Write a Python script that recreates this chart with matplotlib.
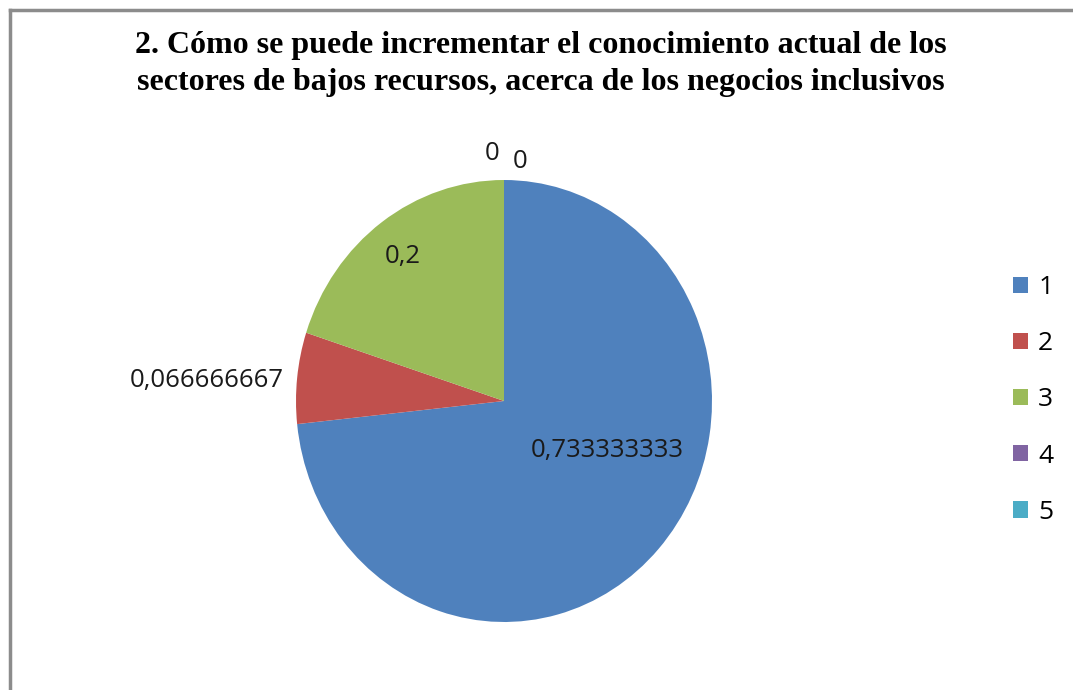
import matplotlib
matplotlib.use("Agg")
import matplotlib.pyplot as plt
from matplotlib.patches import Patch
from matplotlib.lines import Line2D

W, H = 1073, 690
DPI = 100

TITLE = "2. Cómo se puede incrementar el conocimiento actual de los\nsectores de bajos recursos, acerca de los negocios inclusivos"
categories = ["1", "2", "3", "4", "5"]
values = [0.733333333, 0.066666667, 0.2, 0.0, 0.0]
colors = ["#4F81BD", "#C0504D", "#9BBB59", "#8064A2", "#4BACC6"]

# posiciones de las etiquetas (px desde arriba-izquierda), como en Excel
label_pos = [(607, 450), (207, 381), (403, 256), (492, 154), (520, 161)]


def fmt(v):
    s = f"{v:.9f}".rstrip("0").rstrip(".")
    return s.replace(".", ",")


def fx(x):
    return x / W


def fy(y):
    return 1 - y / H


fig = plt.figure(figsize=(W / DPI, H / DPI), dpi=DPI)
fig.patch.set_facecolor("white")

# marco gris (solo izquierda y arriba visibles)
fig.add_artist(Line2D([fx(9.5), fx(9.5)], [0, fy(9.5)], color="#8C8C8C", lw=2.5))
fig.add_artist(Line2D([fx(9.5), 1], [fy(9.5), fy(9.5)], color="#8C8C8C", lw=2.5))

fig.text(fx(541), fy(64), TITLE, ha="center", va="center", fontsize=23,
         fontweight="bold", family="Liberation Serif", linespacing=1.32)

# pie en su propio eje, algo elíptico como el original
cx, cy, rx, ry = 504, 401, 208, 221
ax = fig.add_axes([fx(cx - rx), fy(cy + ry), 2 * rx / W, 2 * ry / H])
wedges, _ = ax.pie(values, colors=colors, startangle=90, counterclock=False,
                   radius=1, wedgeprops=dict(linewidth=0))
ax.set_aspect("auto")
ax.set_xlim(-1, 1)
ax.set_ylim(-1, 1)
ax.axis("off")

for v, (px, py) in zip(values, label_pos):
    fig.text(fx(px), fy(py), fmt(v), ha="center", va="center", fontsize=18.5,
             family="Open Sans", color="#1a1a1a")

handles = [Patch(facecolor=c, edgecolor="none") for c in colors]
fig.legend(handles, categories, loc="center left", bbox_to_anchor=(fx(1002), fy(400)),
           frameon=False, prop={"family": "Open Sans", "size": 19},
           handlelength=0.57, handleheight=0.57, handletextpad=0.4, labelspacing=1.18,
           borderaxespad=0, borderpad=0.4)

fig.savefig("out.png", dpi=DPI)
